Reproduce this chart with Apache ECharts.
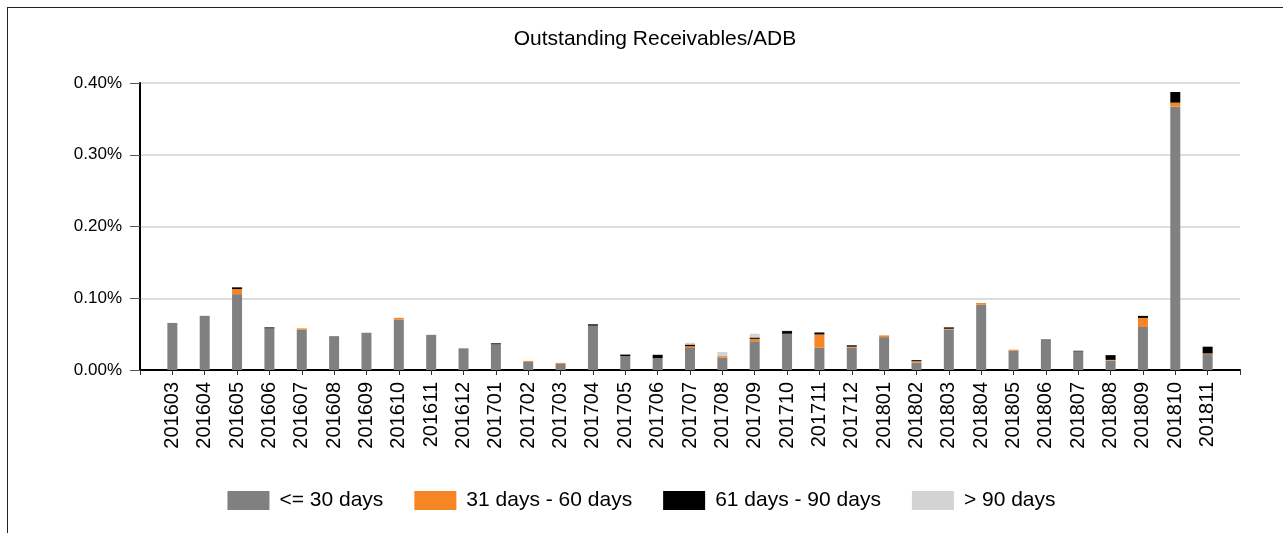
<!DOCTYPE html>
<html>
<head>
<meta charset="utf-8">
<script src="https://cdn.jsdelivr.net/npm/echarts@6/dist/echarts.min.js"></script>
<style>
  html, body { margin: 0; padding: 0; background: #fff; overflow: hidden; }
  #frame { position: absolute; left: 7px; top: 7px; width: 1300px; height: 600px; border: 1.5px solid #222; border-right: none; border-bottom: none; }
  #main { position: absolute; left: 0; top: 0; width: 1283px; height: 533px; }
</style>
</head>
<body>
<div id="frame"></div>
<div id="main"></div>
<script>
// months
var months = ['201603', '201604', '201605', '201606', '201607', '201608', '201609', '201610', '201611', '201612',
  '201701', '201702', '201703', '201704', '201705', '201706', '201707', '201708', '201709', '201710',
  '201711', '201712', '201801', '201802', '201803', '201804', '201805', '201806', '201807', '201808',
  '201809', '201810', '201811'];

// values in percent
var upTo30 = [0.0656, 0.0755, 0.1057, 0.058, 0.0561, 0.0472, 0.0519, 0.0703, 0.049, 0.0302,
  0.0358, 0.0113, 0.0085, 0.0618, 0.0193, 0.0165, 0.0307, 0.0175, 0.0401, 0.0505,
  0.0311, 0.0311, 0.0458, 0.0104, 0.0561, 0.091, 0.0269, 0.0415, 0.0259, 0.0132,
  0.0599, 0.367, 0.0222];
var d31to60 = [0, 0, 0.0071, 0, 0.0019, 0, 0, 0.0024, 0, 0,
  0, 0.0014, 0.0014, 0, 0, 0, 0.0024, 0.0019, 0.0033, 0,
  0.0184, 0.0014, 0.0024, 0.0019, 0.0014, 0.0024, 0.0014, 0, 0, 0.0009,
  0.0127, 0.0056, 0.0009];
var d61to90 = [0, 0, 0.0024, 0.0014, 0, 0, 0, 0, 0, 0,
  0.0014, 0, 0, 0.0019, 0.0024, 0.0047, 0.0024, 0, 0.0019, 0.0038,
  0.0028, 0.0019, 0, 0.0014, 0.0019, 0, 0, 0.0009, 0.0009, 0.0066,
  0.0028, 0.0149, 0.0094];
var over90 = [0, 0, 0, 0, 0, 0, 0, 0, 0, 0,
  0, 0, 0, 0, 0.0005, 0.0005, 0.0024, 0.0057, 0.0052, 0.0009,
  0, 0, 0, 0, 0, 0, 0, 0, 0, 0,
  0, 0, 0];

var yTicks = [0, 0.1, 0.2, 0.3, 0.4];

// [value, index] so the value dimension comes first and gets stacked
function pairs(arr) {
  return arr.map(function (v, i) { return [v, i]; });
}

var myChart = echarts.init(document.getElementById('main'));

var font = 'Liberation Sans, Arial, sans-serif';

function bar(name, color, arr) {
  return {
    name: name,
    type: 'bar',
    stack: 'a',
    barWidth: 10,
    encode: { x: 1, y: 0 },
    itemStyle: { color: color },
    data: pairs(arr)
  };
}

var option = {
  animation: false,
  title: {
    text: 'Outstanding Receivables/ADB',
    left: 650,
    top: 24,
    textAlign: 'center',
    textStyle: { fontFamily: font, fontSize: 21, fontWeight: 'normal', color: '#000' }
  },
  legend: {
    left: 'center',
    top: 485,
    itemWidth: 42,
    itemHeight: 19,
    itemGap: 31,
    icon: 'rect',
    textStyle: { fontFamily: font, fontSize: 21, color: '#000', padding: [0, 0, 0, 5] },
    data: ['<= 30 days', '31 days - 60 days', '61 days - 90 days', '> 90 days']
  },
  grid: { left: 140, right: 43, top: 83, bottom: 163 },
  xAxis: {
    type: 'value',
    min: -1,
    max: months.length,
    interval: 1,
    splitLine: { show: false },
    axisLine: { lineStyle: { color: '#000', width: 2 } },
    axisTick: { length: 5, lineStyle: { color: '#333' } },
    axisLabel: {
      rotate: 90,
      margin: 12,
      fontFamily: font,
      fontSize: 20,
      color: '#000',
      showMinLabel: true,
      showMaxLabel: true,
      formatter: function (v) { return months[v] || ''; }
    }
  },
  yAxis: {
    type: 'value',
    min: yTicks[0],
    max: yTicks[yTicks.length - 1],
    interval: 0.1,
    axisLine: { show: true, onZero: false, lineStyle: { color: '#000', width: 2 } },
    axisTick: { show: true, length: 10, lineStyle: { color: '#555' } },
    splitLine: { lineStyle: { color: '#ddd', width: 2 } },
    axisLabel: {
      margin: 18,
      fontFamily: font,
      fontSize: 17,
      color: '#000',
      formatter: function (v) { return v.toFixed(2) + '%'; }
    }
  },
  series: [
    bar('<= 30 days', '#808080', upTo30),
    bar('31 days - 60 days', '#f68524', d31to60),
    bar('61 days - 90 days', '#000', d61to90),
    bar('> 90 days', '#d3d3d3', over90)
  ]
};

myChart.setOption(option);
window.addEventListener('resize', function () {
  myChart.resize();
});
</script>
</body>
</html>
